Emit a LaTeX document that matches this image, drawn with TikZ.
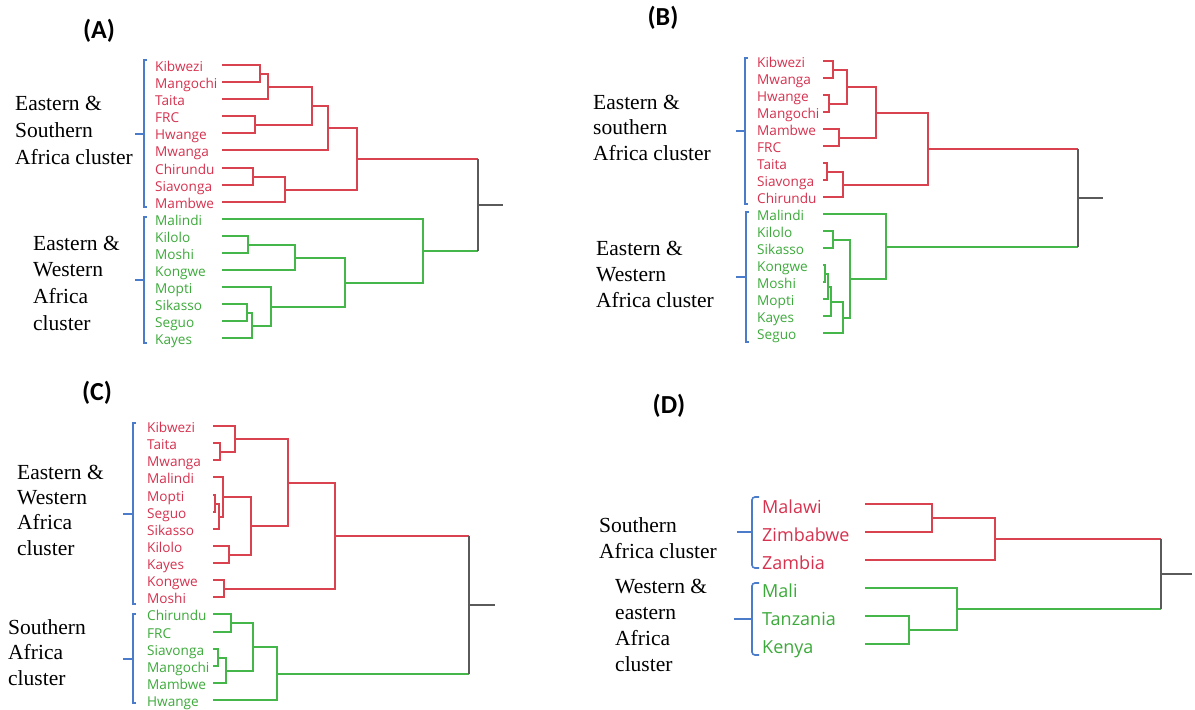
\documentclass[tikz,border=0pt]{standalone}
\usepackage{fontspec}
\setmainfont{Liberation Serif}
\newfontfamily\leaffont{Open Sans}
\newfontfamily\titlefont{Carlito}
\usetikzlibrary{calc}
\definecolor{dred}{HTML}{D9424F}
\definecolor{lred}{HTML}{D6324F}
\definecolor{dgreen}{HTML}{45B649}
\definecolor{lgreen}{HTML}{3CAA3A}
\definecolor{bblue}{HTML}{4A7CC9}
\definecolor{rgray}{HTML}{5A5A5A}
\tikzset{
  redl/.style={draw=dred,line width=2pt},
  greenl/.style={draw=dgreen,line width=2pt},
  grayl/.style={draw=rgray,line width=2pt},
  bluel/.style={draw=bblue,line width=1.6pt},
  leaf/.style={anchor=base west,inner sep=0pt,font=\leaffont\fontsize{13.6}{13.6}\selectfont},
  leafD/.style={anchor=base west,inner sep=0pt,font=\leaffont\fontsize{18}{18}\selectfont},
  clab/.style={anchor=west,inner sep=0pt,align=left},
  ptitle/.style={inner sep=0pt,font=\titlefont\bfseries\fontsize{26}{26}\selectfont},
}
\newcommand\mrg[5]{%
  \path let \p1=(#3), \p2=(#4) in coordinate (#2) at (#5pt,{round(0.5*\y1+0.5*\y2)});
  \draw[#1] (#3) -| (#2) |- (#4);}
\newcommand\rootjoin[5]{%
  \path let \p1=(#2), \p2=(#3) in coordinate (#1) at (#4pt,{round(0.5*\y1+0.5*\y2)});
  \coordinate (#1e) at ($(#1)+(#5pt,0pt)$);
  \draw[redl] (#2) -- (#2 -| #1);
  \draw[greenl] (#3) -- (#3 -| #1);
  \draw[grayl] (#2 -| #1) -- (#3 -| #1) (#1) -- (#1e);}
\newcommand\brak[5]{% x, top, bottom, tickx, width
  \draw[bluel] ({#1+#5},#2) -- (#1,#2) -- (#1,#3) -- ({#1+#5},#3);
  \draw[bluel] (#1,{round((#2+#3)/2)}) -- (#4,{round((#2+#3)/2)});}
\begin{document}
\begin{tikzpicture}[x=1pt,y=-1pt]
\useasboundingbox (0,0) rectangle (1195,710);
\fill[white] (0,0) rectangle (1195,710);

% ---------------- Panel A ----------------
\node[ptitle] (tA) at (99,31) {(A)};
\foreach \n/\c [count=\i from 0] in {Kibwezi/lred,Mangochi/lred,Taita/lred,FRC/lred,Hwange/lred,Mwanga/lred,Chirundu/lred,Siavonga/lred,Mambwe/lred,Malindi/lgreen,Kilolo/lgreen,Moshi/lgreen,Kongwe/lgreen,Mopti/lgreen,Sikasso/lgreen,Seguo/lgreen,Kayes/lgreen}{
  \pgfmathsetmacro\yy{round(65+17.09*\i)}
  \node[leaf,text=\c] (LA\i) at (155,\yy+6) {\n};
  \coordinate (A\i) at (222,\yy);
}
\mrg{redl}{ma01}{A0}{A1}{260}
\mrg{redl}{ma012}{ma01}{A2}{268}
\mrg{redl}{ma34}{A3}{A4}{255}
\mrg{redl}{maT}{ma012}{ma34}{312}
\mrg{redl}{maT5}{maT}{A5}{328}
\mrg{redl}{ma67}{A6}{A7}{253}
\mrg{redl}{ma678}{ma67}{A8}{285}
\mrg{redl}{maRed}{maT5}{ma678}{357}
\mrg{greenl}{ma1011}{A10}{A11}{248}
\mrg{greenl}{ma1012}{ma1011}{A12}{295}
\mrg{greenl}{ma1415}{A14}{A15}{247}
\mrg{greenl}{ma1416}{ma1415}{A16}{252}
\mrg{greenl}{ma13}{A13}{ma1416}{271}
\mrg{greenl}{maG1}{ma1012}{ma13}{345}
\mrg{greenl}{maGreen}{A9}{maG1}{423}
\rootjoin{Aroot}{maRed}{maGreen}{478}{25}
\brak{144}{60}{207}{135}{3}
\brak{144}{217}{343}{135}{3}
\node[clab,font=\fontsize{21.5}{27}\selectfont] (cA1) at (15,130) {Eastern \&\\Southern\\Africa cluster};
\node[clab,font=\fontsize{21.5}{26.7}\selectfont] (cA2) at (33,283) {Eastern \&\\Western\\Africa\\cluster};

% ---------------- Panel B ----------------
\node[ptitle] (tB) at (663,18) {(B)};
\foreach \n/\c [count=\i from 0] in {Kibwezi/lred,Mwanga/lred,Hwange/lred,Mangochi/lred,Mambwe/lred,FRC/lred,Taita/lred,Siavonga/lred,Chirundu/lred,Malindi/lgreen,Kilolo/lgreen,Sikasso/lgreen,Kongwe/lgreen,Moshi/lgreen,Mopti/lgreen,Kayes/lgreen,Seguo/lgreen}{
  \pgfmathsetmacro\yy{round(61+17*\i)}
  \node[leaf,text=\c] (LB\i) at (757,\yy+6) {\n};
  \coordinate (B\i) at (823,\yy);
}
\mrg{redl}{mb01}{B0}{B1}{833}
\mrg{redl}{mb23}{B2}{B3}{829}
\mrg{redl}{mb03}{mb01}{mb23}{847}
\mrg{redl}{mb45}{B4}{B5}{839}
\mrg{redl}{mb05}{mb03}{mb45}{876}
\mrg{redl}{mb67}{B6}{B7}{827}
\mrg{redl}{mb68}{mb67}{B8}{843}
\mrg{redl}{mbRed}{mb05}{mb68}{928}
\mrg{greenl}{mb1011}{B10}{B11}{833}
\mrg{greenl}{mb1213}{B12}{B13}{825}
\mrg{greenl}{mb1214}{mb1213}{B14}{828}
\mrg{greenl}{mb1215}{mb1214}{B15}{831}
\mrg{greenl}{mb1216}{mb1215}{B16}{843}
\mrg{greenl}{mbG1}{mb1011}{mb1216}{850}
\mrg{greenl}{mbGreen}{B9}{mbG1}{886}
\rootjoin{Broot}{mbRed}{mbGreen}{1078}{25}
\brak{745}{58}{204}{736}{3}
\brak{746}{212}{342}{736}{3}
\node[clab,font=\fontsize{21.5}{25.5}\selectfont] (cB1) at (593,127.5) {Eastern \&\\southern\\Africa cluster};
\node[clab,font=\fontsize{21.5}{26}\selectfont] (cB2) at (596,274) {Eastern \&\\Western\\Africa cluster};

% ---------------- Panel C ----------------
\node[ptitle] (tC) at (97,393) {(C)};
\foreach \n/\c [count=\i from 0] in {Kibwezi/lred,Taita/lred,Mwanga/lred,Malindi/lred,Mopti/lred,Seguo/lred,Sikasso/lred,Kilolo/lred,Kayes/lred,Kongwe/lred,Moshi/lred,Chirundu/lgreen,FRC/lgreen,Siavonga/lgreen,Mangochi/lgreen,Mambwe/lgreen,Hwange/lgreen}{
  \pgfmathsetmacro\yy{round(426+17.125*\i)}
  \node[leaf,text=\c] (LC\i) at (147,\yy+6) {\n};
  \coordinate (C\i) at (213,\yy);
}
\mrg{redl}{mc12}{C1}{C2}{220}
\mrg{redl}{mc012}{C0}{mc12}{235}
\mrg{redl}{mc45}{C4}{C5}{215}
\mrg{redl}{mc456}{mc45}{C6}{219}
\mrg{redl}{mc3}{C3}{mc456}{223}
\mrg{redl}{mc78}{C7}{C8}{229}
\mrg{redl}{mc38}{mc3}{mc78}{251}
\mrg{redl}{mcA}{mc012}{mc38}{288}
\mrg{redl}{mc910}{C9}{C10}{224}
\mrg{redl}{mcRed}{mcA}{mc910}{335}
\mrg{greenl}{mc1112}{C11}{C12}{231}
\mrg{greenl}{mc1314}{C13}{C14}{218}
\mrg{greenl}{mc1315}{mc1314}{C15}{226}
\mrg{greenl}{mc1115}{mc1112}{mc1315}{253}
\mrg{greenl}{mcGreen}{mc1115}{C16}{277}
\rootjoin{Croot}{mcRed}{mcGreen}{469}{26}
\brak{133}{423}{604}{123}{3}
\brak{133}{614}{703}{123}{3}
\node[clab,font=\fontsize{21.5}{25.3}\selectfont] (cC1) at (17,510) {Eastern \&\\Western\\Africa\\cluster};
\node[clab,font=\fontsize{21.5}{25.5}\selectfont] (cC2) at (8,652.5) {Southern\\Africa\\cluster};

% ---------------- Panel D ----------------
\node[ptitle] (tD) at (669,406) {(D)};
\foreach \n/\c [count=\i from 0] in {Malawi/lred,Zimbabwe/lred,Zambia/lred,Mali/lgreen,Tanzania/lgreen,Kenya/lgreen}{
  \pgfmathsetmacro\yy{round(504+28*\i)}
  \node[leafD,text=\c] (LD\i) at (762,\yy+9) {\n};
  \coordinate (D\i) at (865,\yy);
}
\mrg{redl}{md01}{D0}{D1}{932}
\mrg{redl}{md012}{md01}{D2}{995}
\mrg{greenl}{md45}{D4}{D5}{909}
\mrg{greenl}{md345}{D3}{md45}{957}
\rootjoin{Droot}{md012}{md345}{1161}{31}
\draw[bluel,rounded corners=3pt] (759,497) -- (752,497) -- (752,568) -- (759,568);
\draw[bluel] (752,532) -- (737,532);
\draw[bluel,rounded corners=3pt] (759,583) -- (752,583) -- (752,655) -- (759,655);
\draw[bluel] (752,619) -- (734,619);
\node[clab,font=\fontsize{21.5}{26}\selectfont] (cD1) at (599,538) {Southern\\Africa cluster};
\node[clab,font=\fontsize{21.5}{26}\selectfont] (cD2) at (615,625) {Western \&\\eastern\\Africa\\cluster};
\end{tikzpicture}
\end{document}
